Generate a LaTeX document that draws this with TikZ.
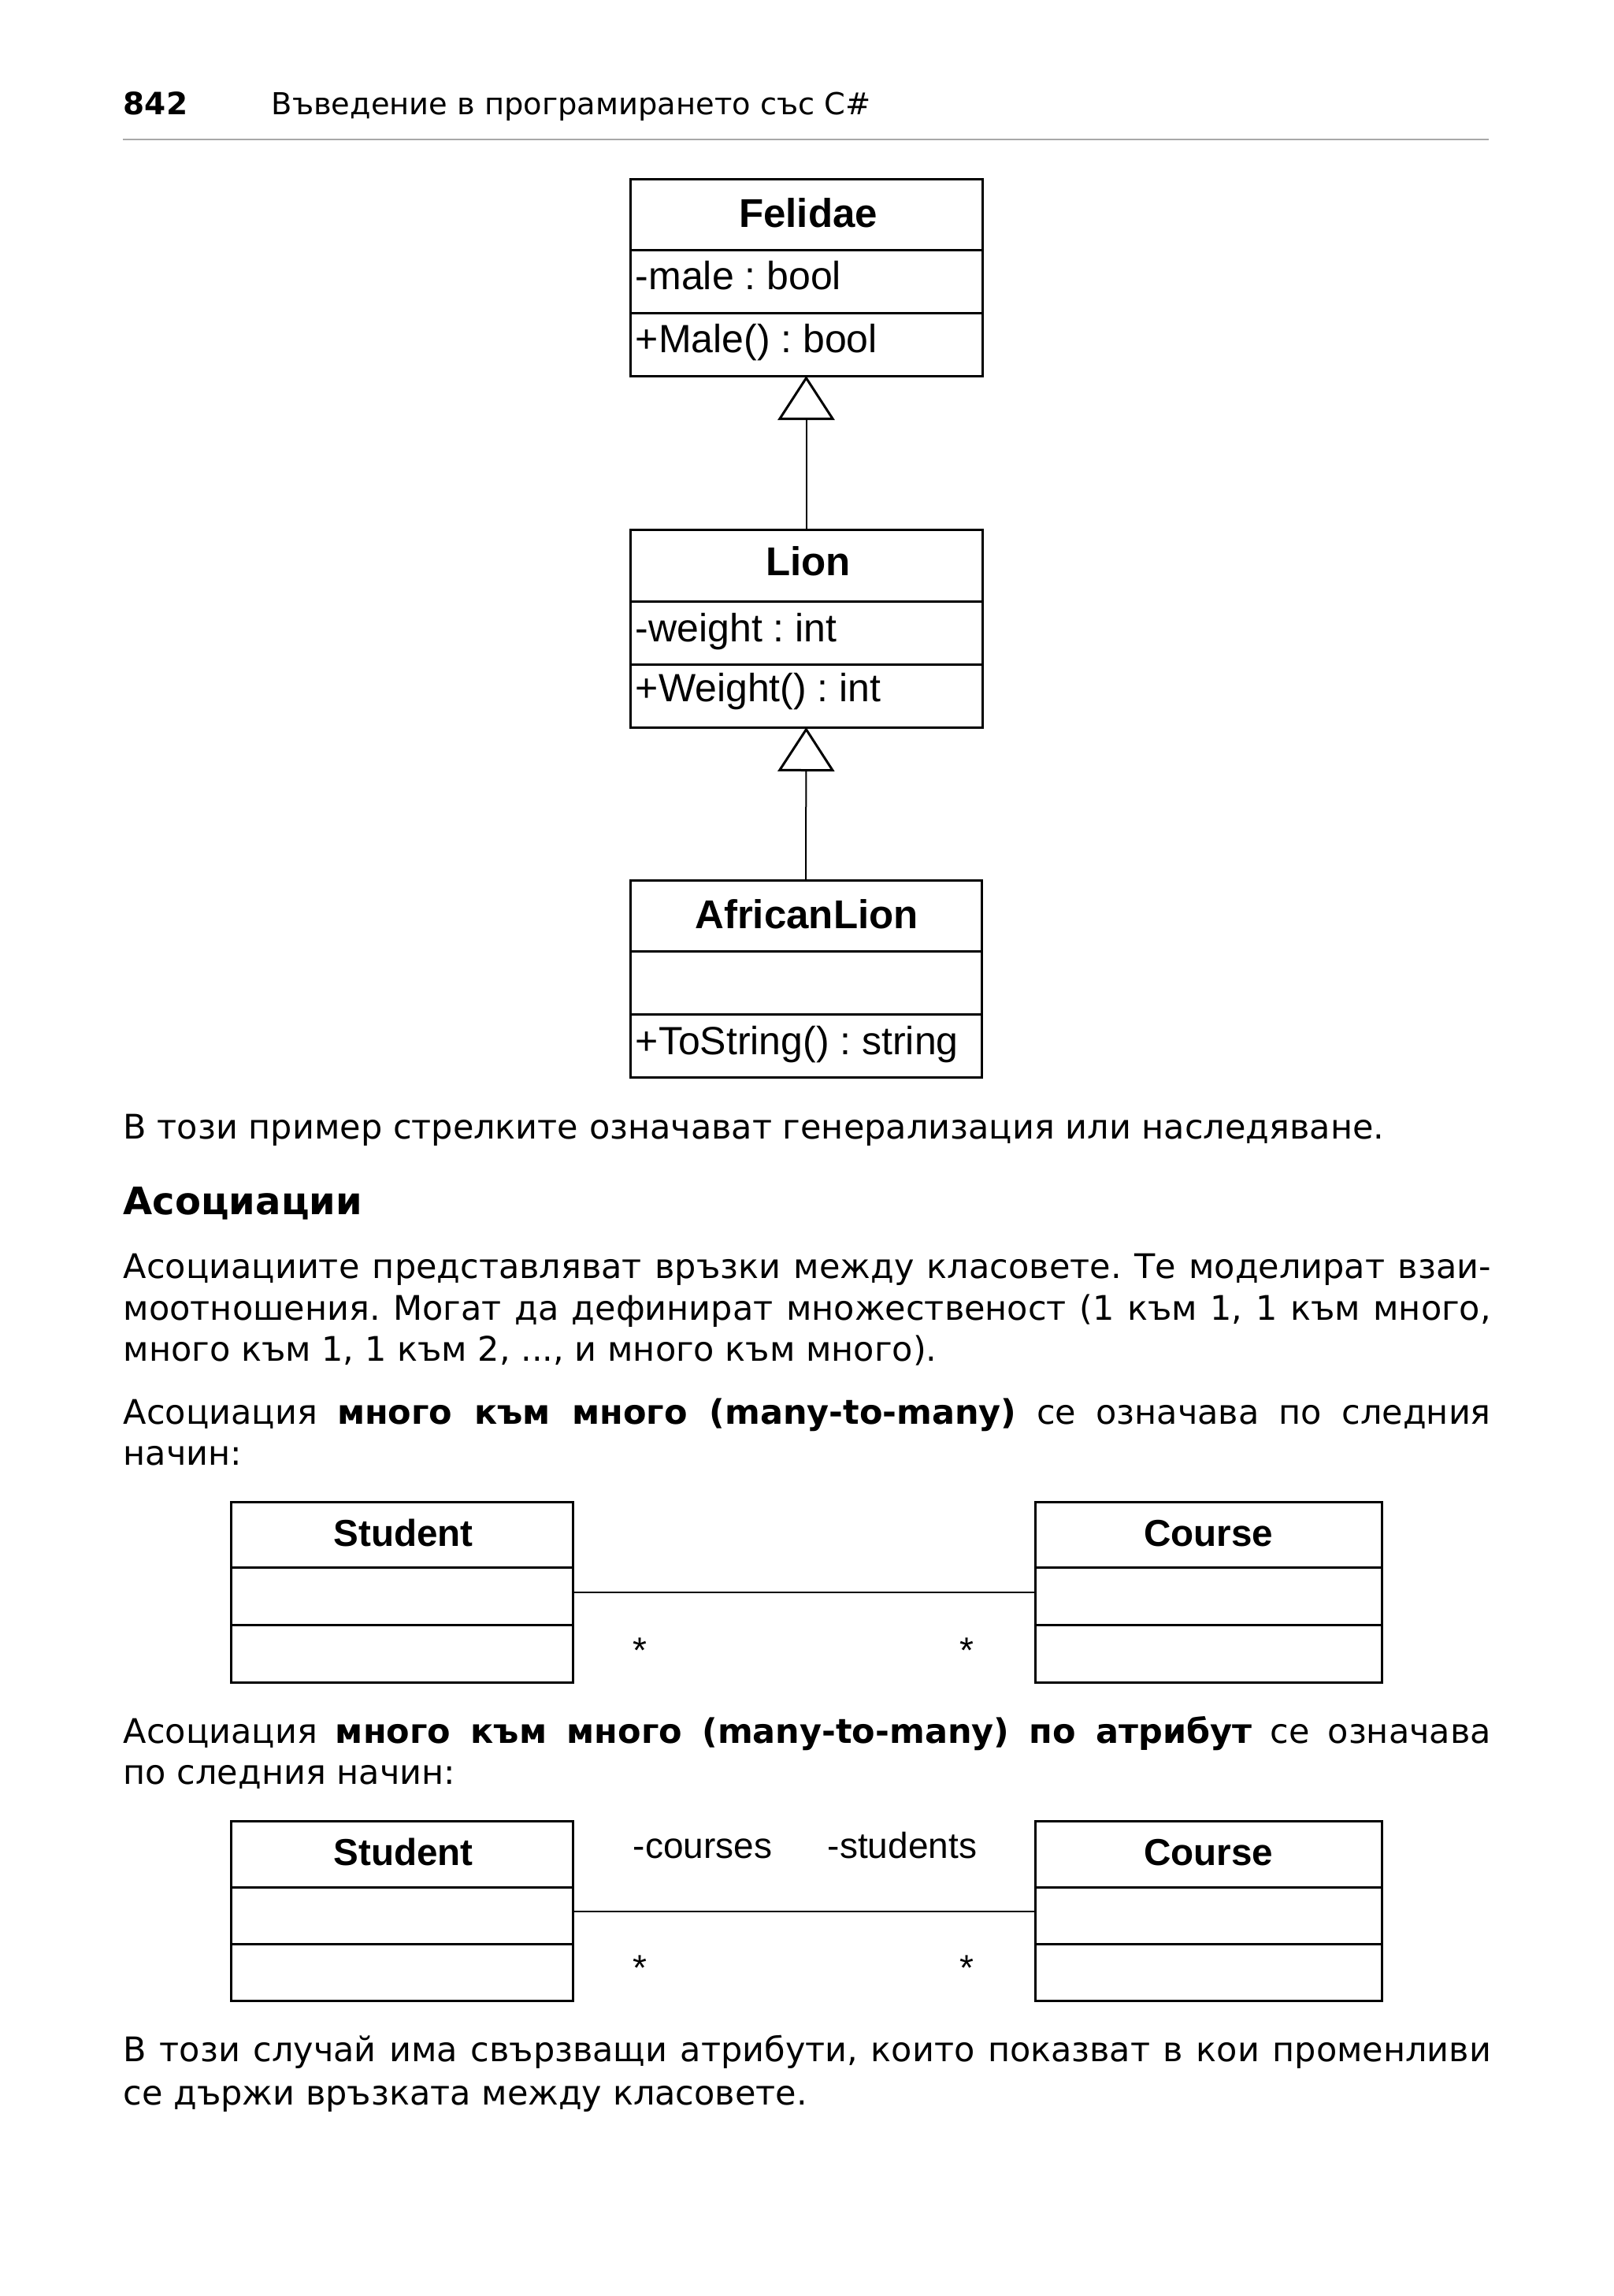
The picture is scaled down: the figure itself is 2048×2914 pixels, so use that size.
\documentclass[tikz,border=0pt]{standalone}
\usepackage{fontspec}
\setmainfont{DejaVu Sans}
\newfontfamily\arial{Liberation Sans}
\usetikzlibrary{arrows.meta}
\definecolor{rulegray}{HTML}{A8A8A8}
\frenchspacing
\tikzset{
  box/.style={draw, line width=0.75pt, inner sep=0pt, outer sep=0pt, anchor=north west},
  ctext/.style={font=\arial\fontsize{12.5pt}{14pt}\selectfont, anchor=base west, inner sep=0pt},
  ctitle/.style={font=\arial\bfseries\fontsize{12.75pt}{14pt}\selectfont, anchor=base, inner sep=0pt},
  stitle/.style={font=\arial\bfseries\fontsize{11.9pt}{14pt}\selectfont, anchor=base, inner sep=0pt},
  role/.style={font=\arial\fontsize{11.5pt}{14pt}\selectfont, anchor=base west, inner sep=0pt},
  mult/.style={font=\arial\fontsize{11.5pt}{14pt}\selectfont, anchor=base, inner sep=0pt},
  body/.style={font=\fontsize{10.75pt}{13pt}\selectfont, anchor=base west, inner sep=0pt},
  head/.style={font=\bfseries\fontsize{12pt}{14pt}\selectfont, anchor=base west, inner sep=0pt},
  hdr/.style={font=\fontsize{9.6pt}{12pt}\selectfont, anchor=base west, inner sep=0pt},
  gen/.style={line width=0.5pt, -{Triangle[open, length=14pt, width=18pt, line width=0.75pt]}},
  assoc/.style={line width=0.5pt},
}
\newcommand\umlbox[6]{%
  \node[box, minimum width=#4*0.25pt, minimum height=#5*0.25pt] (#1-t) at (#2,#3) {};
  \node[box, minimum width=#4*0.25pt, minimum height=#6*0.25pt] (#1-a) at (#1-t.south west) {};
  \node[box, minimum width=#4*0.25pt, minimum height=#6*0.25pt] (#1-m) at (#1-a.south west) {};
}
\newcommand\jline[1]{\makebox[434pt][s]{#1}}
\begin{document}
\begin{tikzpicture}[x=0.25pt,y=-0.25pt]
\useasboundingbox[fill=white] (0,0) rectangle (2048,2914);
% header
\node[hdr, font=\bfseries\fontsize{9.75pt}{12pt}\selectfont] (pg) at (156,145) {842};
\node[hdr] (ttl) at (344,145) {Въведение в програмирането със C\#};
\coordinate (rl) at (156,177);
\coordinate (rr) at (1890,177);
\draw[rulegray, line width=0.5pt] (rl) -- (rr);

% inheritance diagram
\umlbox{fel}{800}{227}{447}{90}{80}
\umlbox{lion}{800}{672}{447}{91}{80}
\umlbox{afr}{800}{1117}{446}{90}{80}
\node[ctitle] (felT) at (1026,288) {Felidae};
\node[ctext] (felA) at (806,367) {-male : bool};
\node[ctext] (felM) at (806,447) {+Male() : bool};
\node[ctitle] (lionT) at (1026,730) {Lion};
\node[ctext] (lionA) at (806,814) {-weight : int};
\node[ctext] (lionM) at (806,890) {+Weight() : int};
\node[ctitle] (afrT) at (1024,1178) {AfricanLion};
\node[ctext] (afrM) at (806,1338) {+ToString() : string};
\draw[gen] (lion-t.north) -- (fel-m.south);
\draw[gen] (afr-t.north) -- (lion-m.south);

% text
\node[body] (p0) at (156,1445) {В този пример стрелките означават генерализация или наследяване.};
\node[head] (h1) at (156,1541) {Асоциации};
\node[body] (p1a) at (156,1622) {\jline{Асоциациите представляват връзки между класовете. Те моделират взаи-}};
\node[body] (p1b) at (156,1675) {\jline{моотношения. Могат да дефинират множественост (1 към 1, 1 към много,}};
\node[body] (p1c) at (156,1727) {много към 1, 1 към 2, ..., и много към много).};
\node[body] (p2a) at (156,1807) {\jline{Асоциация \textbf{много към много (many-to-many)} се означава по следния}};
\node[body] (p2b) at (156,1859) {начин:};

% association 1
\umlbox{stuA}{293}{1906}{434}{83}{73}
\umlbox{crsA}{1314}{1906}{440}{83}{73}
\node[stitle] (stuAT) at (512,1962) {Student};
\node[stitle] (crsAT) at (1534,1962) {Course};
\draw[assoc] ([yshift=1.25pt]stuA-a.east) -- ([yshift=1.25pt]crsA-a.west);
\node[mult] (m1) at (812,2110) {*};
\node[mult] (m2) at (1227,2110) {*};

\node[body] (p3a) at (156,2212) {\jline{Асоциация \textbf{много към много (many-to-many) по атрибут} се означава}};
\node[body] (p3b) at (156,2264) {по следния начин:};

% association 2
\umlbox{stuB}{293}{2311}{434}{84}{72}
\umlbox{crsB}{1314}{2311}{440}{84}{72}
\node[stitle] (stuBT) at (512,2367) {Student};
\node[stitle] (crsBT) at (1534,2367) {Course};
\draw[assoc] ([yshift=1.25pt]stuB-a.east) -- ([yshift=1.25pt]crsB-a.west);
\node[role] (r1) at (803,2358) {-courses};
\node[role] (r2) at (1050,2358) {-students};
\node[mult] (m3) at (812,2513) {*};
\node[mult] (m4) at (1227,2513) {*};

\node[body] (p4a) at (156,2616) {\jline{В този случай има свързващи атрибути, които показват в кои променливи}};
\node[body] (p4b) at (156,2671) {се държи връзката между класовете.};
\end{tikzpicture}
\end{document}
